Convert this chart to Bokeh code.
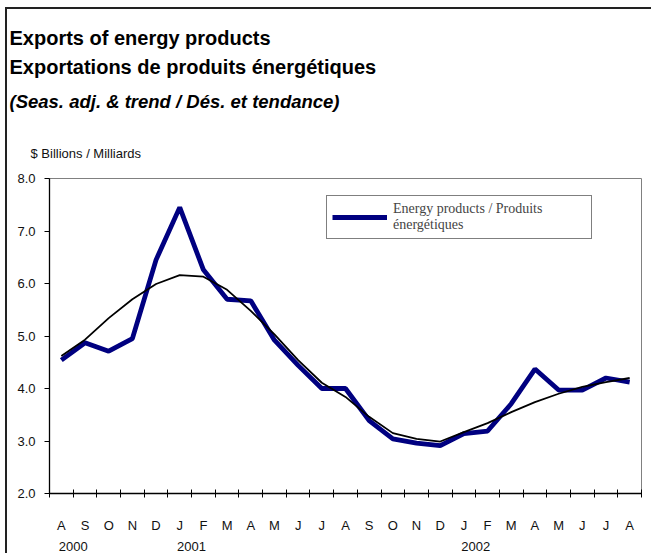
import pandas as pd
from bokeh.plotting import figure
from bokeh.models import (FactorRange, Range1d, LinearAxis, CategoricalAxis, FixedTicker, Title,
                          ColumnDataSource, Legend, LegendItem, PrintfTickFormatter,
                          CustomJSTickFormatter)
from bokeh.embed import file_html
from bokeh.resources import INLINE

# ---- data ----
periods = [str(p) for p in pd.period_range("2000-08", periods=25, freq="M")]
months = ["A", "S", "O", "N", "D", "J", "F", "M", "A", "M", "J", "J",
          "A", "S", "O", "N", "D", "J", "F", "M", "A", "M", "J", "J", "A"]
energy = [4.54, 4.87, 4.71, 4.95, 6.45, 7.45, 6.26, 5.70, 5.67, 4.92, 4.44, 4.00,
          4.00, 3.39, 3.04, 2.96, 2.91, 3.14, 3.19, 3.71, 4.37, 3.97, 3.97, 4.20, 4.12]
trend = [4.62, 4.93, 5.34, 5.70, 5.99, 6.16, 6.13, 5.88, 5.48, 5.03, 4.54, 4.11,
         3.84, 3.46, 3.15, 3.04, 2.99, 3.17, 3.34, 3.55, 3.74, 3.90, 4.03, 4.12, 4.20]
year_labels = ["2000", "2001", "2002"]
year_at = ["2000-08", "2001-01", "2002-01"]
y_ticks = [2, 3, 4, 5, 6, 7, 8]

FONT = "Liberation Sans"

p = figure(width=646, height=546, output_backend="svg", toolbar_location=None,
           x_range=FactorRange(factors=periods, range_padding=0),
           y_range=Range1d(2, 8), x_axis_location=None,
           min_border_left=42, min_border_right=12, min_border_top=169, min_border_bottom=62)
p.styles = {"margin-left": "5px", "margin-top": "7px",
            "border-left": "2px solid #222222", "border-top": "2px solid #222222"}
p.xgrid.visible = False
p.ygrid.visible = False
p.outline_line_color = "#808080"
p.outline_line_width = 1

# y axis
ya = p.yaxis[0]
ya.ticker = FixedTicker(ticks=y_ticks)
ya.formatter = PrintfTickFormatter(format="%.1f")
ya.major_label_text_font = FONT
ya.major_label_text_font_size = "13px"
ya.major_label_text_color = "#111111"
ya.major_tick_in = 0
ya.major_tick_out = 5
ya.minor_tick_line_color = None
ya.axis_line_color = "black"
ya.axis_line_width = 1.3
ya.major_label_standoff = 9

# x tick axis (ticks on the boundaries between months, no labels)
xa = LinearAxis(ticker=FixedTicker(ticks=list(range(len(periods) + 1))),
                formatter=CustomJSTickFormatter(code="return ''"),
                major_label_text_font_size="13px", major_label_standoff=0,
                major_tick_in=4, major_tick_out=4,
                minor_tick_line_color=None, axis_line_color="black", axis_line_width=1.3)
p.add_layout(xa, "below")

# month letters
ma = CategoricalAxis(formatter=CustomJSTickFormatter(args=dict(keys=periods, labs=months),
                                                     code="return labs[keys.indexOf(tick)]"),
                     major_tick_line_color=None, minor_tick_line_color=None,
                     axis_line_color=None, major_label_standoff=14,
                     major_label_text_font=FONT, major_label_text_font_size="13px",
                     major_label_text_color="#111111")
p.add_layout(ma, "below")

# years, centred on the boundary after the first month shown for each year
year_pos = [periods.index(k) + 1 for k in year_at]
yra = LinearAxis(ticker=FixedTicker(ticks=year_pos),
                 major_label_overrides=dict(zip(year_pos, year_labels)),
                 major_tick_line_color=None, minor_tick_line_color=None,
                 axis_line_color=None, major_label_standoff=0,
                 major_label_text_font=FONT, major_label_text_font_size="13px",
                 major_label_text_color="#111111")
p.add_layout(yra, "below")

src = ColumnDataSource(dict(period=periods, energy=energy, trend=trend))
r_energy = p.line("period", "energy", source=src, line_color="#000080", line_width=4.8)
r_trend = p.line("period", "trend", source=src, line_color="black", line_width=1.8)

# titles (added from the frame outward)
p.add_layout(Title(text="$ Billions / Milliards", text_font=FONT, text_font_size="13px",
                   text_font_style="normal", text_color="#111111", align="left",
                   offset=-19, standoff=36), "above")
p.add_layout(Title(text="(Seas. adj. & trend / Dés. et tendance)", text_font=FONT,
                   text_font_size="18.5px", text_font_style="bold italic", align="left",
                   text_color="black", offset=-40, standoff=27), "above")
t2 = Title(text="Exportations de produits énergétiques", text_font=FONT,
           text_font_size="20px", text_font_style="bold", align="left",
           text_color="black", offset=-40, standoff=0)
try:
    t2.standoff = -5
except Exception:
    t2.standoff = 0
p.add_layout(t2, "above")
p.add_layout(Title(text="Exports of energy products", text_font=FONT,
                   text_font_size="20px", text_font_style="bold", align="left",
                   text_color="black", offset=-40, standoff=15), "above")

legend = Legend(items=[LegendItem(label="Energy products / Produits\nénergétiques",
                                  renderers=[r_energy])],
                location=(277, 254), border_line_color="black", border_line_width=1,
                label_text_font="Liberation Serif", label_text_font_size="14px",
                glyph_width=55, glyph_height=14, label_standoff=6, label_width=193,
                padding=5, margin=0, background_fill_alpha=1)
p.add_layout(legend, "center")

open("out.html", "w").write(file_html(p, INLINE))
